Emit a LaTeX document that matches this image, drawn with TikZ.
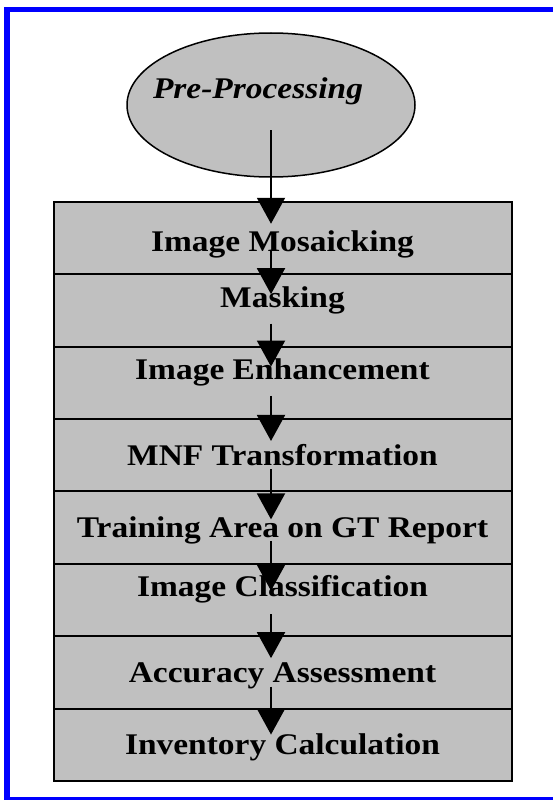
\documentclass[tikz,border=0pt]{standalone}
\usepackage{fontspec}
\setmainfont{Liberation Serif}[FakeStretch=1.115]
\usetikzlibrary{positioning,arrows.meta,shapes.geometric}
\definecolor{boxgray}{RGB}{192,192,192}
\definecolor{frameblue}{RGB}{0,0,255}

\begin{document}
\begin{tikzpicture}[x=1pt,y=-1pt]
	  		\tikzstyle{stage}=[rectangle, draw=black, line width=2pt, fill=boxgray, minimum width=458pt, minimum height=72.4pt, outer sep=0pt, inner sep=0pt, text height=20pt, text depth=0pt, font=\fontsize{30}{35}\selectfont\bfseries]
	  		\tikzstyle{high}=[text depth=26pt]
	  		\tikzstyle{headfont}=[font=\fontsize{30}{35}\selectfont\bfseries\itshape]
	  		\tikzstyle{connect}=[-{Triangle[length=26pt,width=28pt]}, line width=2pt]
	  		\useasboundingbox (0,0) rectangle (553,800);
	  		\draw[frameblue, line width=5.5pt] (553,9.5) -- (7,9.5) -- (7,800);
	  		\draw[frameblue, line width=2.8pt] (7,798.6) -- (553,798.6);
	  		\node[ellipse, draw=black, line width=1.5pt, fill=boxgray, minimum width=288pt, minimum height=144pt] (pre) at (271,105) [label={[headfont, xshift=-13pt, yshift=14pt]center:Pre-Processing}] { };
	  		\node[stage, text height=28pt] (mosaic) [below=24pt of pre, xshift=11.5pt] {Image Mosaicking};
	  		\node[stage, high] (mask) [below=0pt of mosaic] {Masking};
	  		\node[stage, high] (enhance) [below=0pt of mask] {Image Enhancement};
	  		\node[stage] (mnf) [below=0pt of enhance] {MNF Transformation};
	  		\node[stage] (train) [below=0pt of mnf] {Training Area on GT Report};
	  		\node[stage, high] (classify) [below=0pt of train] {Image Classification};
	  		\node[stage] (accuracy) [below=0pt of classify] {Accuracy Assessment};
	  		\node[stage] (inventory) [below=0pt of accuracy] {Inventory Calculation};
	  		\path
	  		([yshift=-25pt]pre.center) edge [connect] ([yshift=-22pt]mosaic.north -| pre)
	  		([yshift=23pt]mosaic.south -| pre) edge [connect] ([yshift=-20pt]mask.north -| pre)
	  		([yshift=23pt]mask.south -| pre) edge [connect] ([yshift=-20pt]enhance.north -| pre)
	  		([yshift=23pt]enhance.south -| pre) edge [connect] ([yshift=-22pt]mnf.north -| pre)
	  		([yshift=22pt]mnf.south -| pre) edge [connect] ([yshift=-28pt]train.north -| pre)
	  		([yshift=23pt]train.south -| pre) edge [connect] ([yshift=-27pt]classify.north -| pre)
	  		([yshift=22pt]classify.south -| pre) edge [connect] ([yshift=-22pt]accuracy.north -| pre)
	  		([yshift=22pt]accuracy.south -| pre) edge [connect] ([yshift=-26pt]inventory.north -| pre);
	  		\end{tikzpicture}
\end{document}
